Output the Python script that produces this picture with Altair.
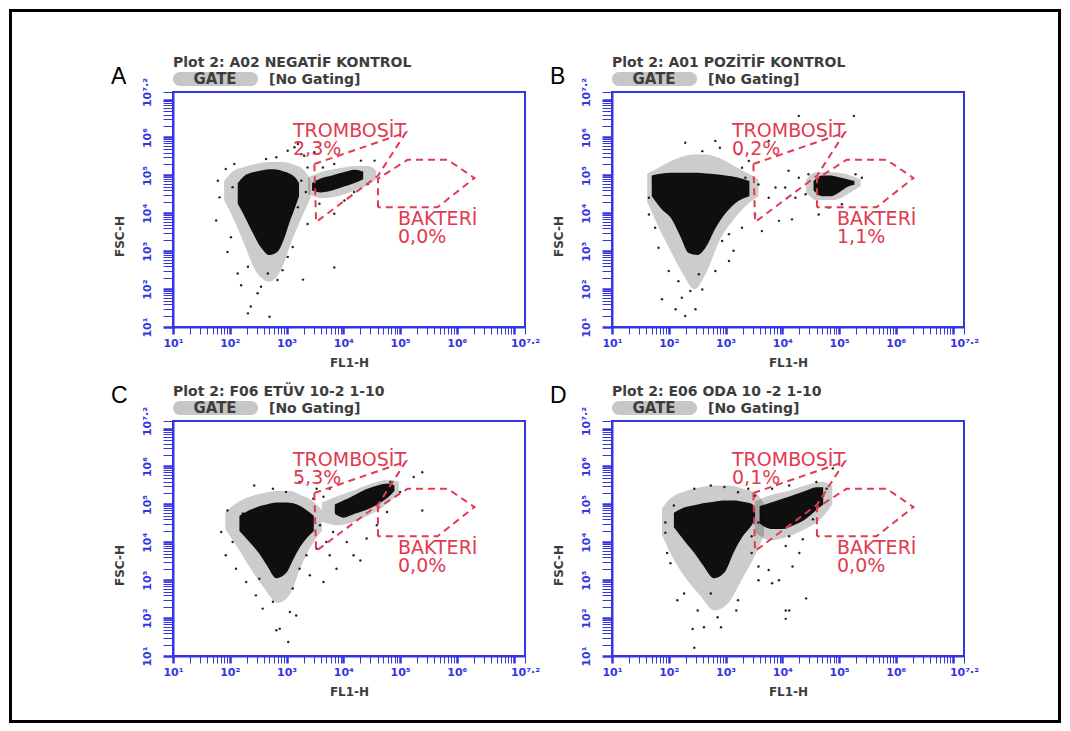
import math

import altair as alt
import pandas as pd

# all coordinates are decades: x = log10(FL1-H), y = log10(FSC-H)
titles = ["Plot 2: A02 NEGATİF KONTROL", "Plot 2: A01 POZİTİF KONTROL",
          "Plot 2: F06 ETÜV 10-2 1-10", "Plot 2: E06 ODA 10 -2 1-10"]
letters = ["A", "B", "C", "D"]
trombosit_pct = ["2,3%", "0,2%", "5,3%", "0,1%"]
bakteri_pct = ["0,0%", "1,1%", "0,0%", "0,0%"]

gate_trombosit = [(3.49, 5.30), (5.10, 6.13), (4.61, 4.99), (3.52, 3.77)]
gate_bakteri = [(4.61, 4.16), (4.61, 4.91), (5.13, 5.41), (5.84, 5.41), (6.31, 4.93), (5.66, 4.16)]

# dense event clouds: (x, low y, high y)
a_core = [(2.14, 4.25, 4.8), (2.25, 3.95, 4.98), (2.4, 3.5, 5.08), (2.55, 3.1, 5.13), (2.7, 2.9, 5.16),
          (2.85, 3.0, 5.15), (2.95, 3.3, 5.1), (3.05, 3.75, 5.05), (3.15, 4.15, 4.95), (3.22, 4.45, 4.8)]
a_halo = [(1.9, 4.35, 4.85), (2.05, 3.9, 5.1), (2.25, 3.2, 5.22), (2.45, 2.5, 5.3), (2.7, 2.2, 5.35),
          (2.9, 2.5, 5.35), (3.1, 3.3, 5.3), (3.3, 4.0, 5.15), (3.42, 4.4, 4.9)]
a_clump = [(3.45, 4.6, 4.8), (3.6, 4.55, 4.92), (3.8, 4.6, 5.0), (4.0, 4.7, 5.08), (4.2, 4.8, 5.15), (4.35, 4.9, 5.1)]
a_clump_halo = [(3.38, 4.5, 4.95), (3.6, 4.4, 5.08), (3.9, 4.45, 5.18), (4.2, 4.6, 5.25), (4.45, 4.75, 5.25), (4.58, 4.9, 5.12)]

b_core = [(1.70, 4.45, 5.0), (1.88, 4.1, 5.05), (2.05, 3.85, 5.07), (2.2, 3.4, 5.07), (2.35, 2.95, 5.07),
          (2.5, 2.9, 5.07), (2.65, 3.1, 5.05), (2.82, 3.6, 5.03), (3.0, 4.0, 5.0), (3.2, 4.3, 4.95), (3.42, 4.45, 4.85)]
b_halo = [(1.62, 4.3, 5.05), (1.8, 3.7, 5.18), (2.0, 3.1, 5.35), (2.25, 2.4, 5.5), (2.45, 2.0, 5.55),
          (2.65, 2.4, 5.55), (2.9, 3.3, 5.45), (3.15, 3.85, 5.25), (3.4, 4.25, 5.05), (3.58, 4.45, 4.9)]
b_clump = [(4.55, 4.6, 4.85), (4.7, 4.45, 5.0), (4.85, 4.45, 5.0), (5.0, 4.55, 4.95), (5.15, 4.7, 4.9), (5.27, 4.75, 4.85)]
b_clump_halo = [(4.42, 4.55, 4.9), (4.6, 4.35, 5.08), (4.9, 4.35, 5.08), (5.2, 4.55, 5.0), (5.38, 4.72, 4.9)]

c_core = [(2.17, 4.3, 4.7), (2.35, 4.0, 4.85), (2.52, 3.7, 4.95), (2.65, 3.4, 5.0), (2.82, 3.05, 5.05),
          (3.0, 3.2, 5.05), (3.12, 3.55, 5.03), (3.25, 3.9, 4.95), (3.35, 4.1, 4.85), (3.48, 4.3, 4.7)]
c_halo = [(1.92, 4.35, 4.8), (2.1, 3.95, 5.02), (2.35, 3.35, 5.2), (2.6, 2.8, 5.3), (2.85, 2.4, 5.35),
          (3.05, 2.6, 5.35), (3.25, 3.35, 5.25), (3.45, 3.95, 5.1), (3.62, 4.3, 4.85)]
c_clump = [(3.85, 4.75, 5.0), (4.0, 4.65, 5.1), (4.2, 4.75, 5.25), (4.4, 4.85, 5.4), (4.6, 5.0, 5.5),
           (4.8, 5.2, 5.55), (4.9, 5.35, 5.5)]
c_clump_halo = [(3.62, 4.55, 5.05), (3.9, 4.45, 5.22), (4.2, 4.55, 5.38), (4.5, 4.75, 5.55), (4.8, 5.05, 5.65), (4.98, 5.3, 5.6)]

d_core = [(2.09, 4.4, 4.78), (2.27, 4.05, 4.92), (2.45, 3.72, 4.98), (2.6, 3.4, 5.03), (2.8, 3.05, 5.07),
          (2.98, 3.2, 5.1), (3.15, 3.75, 5.1), (3.3, 4.15, 5.07), (3.46, 4.45, 5.02), (3.52, 4.6, 4.9)]
d_halo = [(1.88, 4.2, 4.9), (2.05, 3.65, 5.18), (2.3, 3.05, 5.35), (2.55, 2.6, 5.45), (2.8, 2.2, 5.5),
          (3.05, 2.4, 5.5), (3.3, 3.05, 5.42), (3.55, 3.75, 5.28), (3.68, 4.2, 5.0)]
d_clump = [(3.6, 4.5, 4.95), (3.8, 4.35, 5.05), (4.0, 4.35, 5.15), (4.2, 4.45, 5.25), (4.4, 4.6, 5.35),
           (4.6, 4.85, 5.45), (4.72, 5.0, 5.45)]
d_clump_halo = [(3.52, 4.25, 5.08), (3.8, 4.05, 5.25), (4.1, 4.15, 5.35), (4.4, 4.35, 5.5), (4.7, 4.65, 5.6), (4.88, 5.0, 5.5)]

# single events outside the dense clouds
a_dots = [(2.32, 1.36), (2.70, 1.27), (2.37, 1.54), (2.49, 1.89), (2.20, 2.10), (2.55, 2.06), (2.67, 2.41),
          (2.84, 2.24), (2.93, 2.50), (2.14, 2.41), (3.29, 2.25), (3.84, 2.57), (1.96, 2.98), (2.32, 2.59),
          (3.02, 2.85), (3.11, 3.11), (2.02, 3.37), (1.76, 3.81), (1.82, 4.42), (1.79, 4.86), (2.05, 4.69),
          (1.93, 5.17), (2.08, 5.30), (2.64, 5.43), (2.82, 5.48), (3.02, 5.65), (3.14, 5.74), (3.31, 5.52),
          (3.37, 5.21), (3.26, 4.86), (3.34, 4.56), (3.20, 4.16), (3.37, 3.72), (3.08, 3.99), (3.58, 4.25),
          (3.84, 3.99), (4.02, 4.34), (4.19, 4.56), (4.43, 4.77), (4.55, 5.39), (4.31, 5.39), (3.84, 5.30),
          (3.64, 5.21), (3.49, 5.61), (3.20, 5.83), (3.26, 5.56)]
b_dots = [(2.29, 1.29), (2.12, 1.47), (2.47, 1.47), (1.88, 1.73), (2.23, 1.77), (2.38, 1.95), (2.59, 1.99),
          (2.17, 2.21), (2.53, 2.39), (2.82, 2.48), (2.00, 2.48), (3.06, 2.74), (3.14, 3.01), (1.82, 3.09),
          (1.76, 3.62), (2.94, 3.27), (1.65, 4.41), (1.73, 4.85), (1.65, 3.97), (2.29, 5.86), (2.82, 5.91),
          (2.59, 5.64), (2.90, 5.73), (3.23, 5.56), (3.41, 5.38), (3.29, 5.20), (3.58, 4.76), (3.76, 4.41),
          (3.88, 4.68), (3.52, 3.97), (3.64, 3.53), (3.94, 3.80), (4.17, 3.84), (4.23, 4.41), (4.05, 4.68),
          (4.29, 4.94), (4.11, 5.12), (4.46, 5.03), (4.41, 4.50), (4.64, 3.97), (4.82, 4.15), (5.05, 4.24),
          (5.40, 4.94), (5.29, 5.03), (4.29, 6.57), (5.26, 6.57), (3.76, 5.91), (3.06, 3.45), (3.29, 3.62),
          (3.35, 4.94)]
c_dots = [(3.03, 1.37), (2.88, 1.72), (2.82, 1.68), (2.58, 2.25), (3.06, 2.16), (3.17, 2.07), (2.76, 2.43),
          (2.46, 2.60), (2.29, 2.95), (2.52, 3.04), (2.11, 3.30), (1.93, 3.66), (2.05, 4.01), (1.85, 4.27),
          (1.96, 4.84), (2.23, 4.76), (2.43, 5.50), (2.76, 5.41), (2.99, 5.33), (3.23, 5.59), (3.53, 5.41),
          (3.76, 5.41), (3.65, 5.20), (3.47, 5.15), (3.59, 4.45), (3.70, 4.01), (3.82, 4.27), (3.53, 3.83),
          (3.76, 3.66), (3.88, 3.30), (3.65, 2.95), (4.18, 3.66), (4.30, 3.52), (4.06, 4.01), (4.41, 4.10),
          (4.59, 4.45), (4.77, 4.80), (5.00, 5.33), (5.24, 5.72), (5.39, 5.85), (5.39, 4.84), (4.83, 5.59),
          (3.35, 3.66), (3.23, 3.30), (3.41, 3.13), (3.11, 2.78)]
d_dots = [(2.45, 1.22), (2.42, 1.71), (2.62, 1.76), (2.92, 1.76), (2.15, 2.47), (2.51, 2.20), (2.86, 2.02),
          (3.19, 2.20), (3.22, 2.47), (2.74, 2.65), (2.27, 2.65), (2.03, 3.45), (1.97, 3.72), (1.94, 4.25),
          (1.94, 4.52), (2.09, 4.97), (2.45, 5.41), (2.74, 5.50), (2.98, 5.46), (3.22, 5.32), (3.40, 5.41),
          (3.52, 5.23), (3.58, 4.52), (3.46, 4.16), (3.46, 3.72), (3.58, 3.36), (3.58, 3.00), (3.82, 2.92),
          (3.76, 3.27), (3.94, 3.00), (4.06, 2.20), (4.06, 1.98), (4.12, 2.20), (4.42, 2.52), (4.18, 3.36),
          (4.36, 4.08), (4.30, 3.72), (4.12, 4.16), (4.06, 3.90), (4.54, 4.61), (4.72, 5.23), (4.78, 5.41),
          (4.60, 5.59), (3.82, 5.41), (4.12, 5.50), (4.89, 5.95)]

cores = [a_core, b_core, c_core, d_core]
halos = [a_halo, b_halo, c_halo, d_halo]
clumps = [a_clump, b_clump, c_clump, d_clump]
clump_halos = [a_clump_halo, b_clump_halo, c_clump_halo, d_clump_halo]
dots = [a_dots, b_dots, c_dots, d_dots]

W, H = 352, 235
BLUE = "#3535e2"
RED = "#e23a4f"
INK = "#3d3d3d"
FONT = "DejaVu Sans"

ticks = sorted({round(e + math.log10(m), 4) for e in range(1, 8) for m in range(1, 10)
                if e + math.log10(m) <= 7.2} | {7.2})
is_decade = "abs(datum.value - round(datum.value)) < 0.001"
# decades 10^1..10^6 labelled, then the 10^7.2 end of the range
label_expr = ("abs(datum.value - 7.2) < 0.001 ? '10⁷·²' : ((" + is_decade + ") && datum.value < 6.5"
              " ? '10' + ['⁰','¹','²','³','⁴','⁵','⁶'][round(datum.value)] : '')")

xs = alt.Scale(domain=[1, 7.2], nice=False, zero=False)
ys = alt.Scale(domain=[1, 7.2], nice=False, zero=False)

axis_common = dict(
    values=ticks, labelExpr=label_expr, labelOverlap=False, labelFlush=False, grid=False,
    domainColor=BLUE, domainWidth=2, tickColor=BLUE,
    tickWidth={"condition": {"test": is_decade, "value": 2.5}, "value": 1},
    labelColor=BLUE, labelFont=FONT, labelFontWeight="bold", labelFontSize=11,
    titleFont=FONT, titleFontSize=12, titleColor=INK, titleFontWeight="bold",
    titleAlign="center", titleBaseline="middle",
)
x_axis = alt.Axis(title="FL1-H", tickSize=7, labelPadding=3, titleX=W / 2, titleY=35, **axis_common)
y_axis = alt.Axis(title="FSC-H", tickSize=10, labelPadding=11, labelAngle=270, labelAlign="center",
                  labelBaseline="bottom", titleAngle=270, titleX=-54, titleY=144, **axis_common)

one = pd.DataFrame({"k": [0]})


def xenc(field):
    return alt.X(field, scale=xs, axis=x_axis)


def yenc(field):
    return alt.Y(field, scale=ys, axis=y_axis)


def note(text, x, y, align="left", **kw):
    return alt.Chart(one).mark_text(text=text, align=align, baseline="alphabetic", **kw).encode(
        x=alt.value(x), y=alt.value(y))


def clouds(parts):
    rows = []
    for name, part in parts:
        for x, lo, hi in part:
            rows.append({"blob": name, "x": x, "lo": lo, "hi": hi})
    return pd.DataFrame(rows)


def panel(k):
    halo_df = clouds([("main", halos[k]), ("clump", clump_halos[k])])
    core_df = clouds([("main", cores[k]), ("clump", clumps[k])])

    halo = alt.Chart(halo_df).mark_area(color="black", opacity=0.2, interpolate="monotone").encode(
        x=xenc("x:Q"), y=yenc("lo:Q"), y2="hi:Q", detail="blob:N")
    core = alt.Chart(core_df).mark_area(color="black", opacity=0.93, interpolate="monotone").encode(
        x=xenc("x:Q"), y=yenc("lo:Q"), y2="hi:Q", detail="blob:N")

    pts = pd.DataFrame(dots[k], columns=["x", "y"])
    events = alt.Chart(pts).mark_circle(size=6, color="black", opacity=0.85).encode(
        x=xenc("x:Q"), y=yenc("y:Q"))

    gate_rows = []
    for name, corners in (("trombosit", gate_trombosit), ("bakteri", gate_bakteri)):
        for j, (x, y) in enumerate(corners + corners[:1]):
            gate_rows.append({"gate": name, "ord": j, "x": x, "y": y})
    gates = alt.Chart(pd.DataFrame(gate_rows)).mark_line(
        color=RED, strokeDash=[7, 5], strokeWidth=2).encode(
        x=xenc("x:Q"), y=yenc("y:Q"), detail="gate:N", order="ord:Q")

    letter_y = -8 if k < 2 else -18
    pill = alt.Chart(one).mark_rect(cornerRadius=7, color="#c6c6c6").encode(
        x=alt.value(0), x2=alt.value(85), y=alt.value(-20), y2=alt.value(-6))

    layers = [
        halo, core, events, gates,
        note(letters[k], -62, letter_y, font="Liberation Sans", fontSize=23, color="black"),
        note(titles[k], 0, -25, font=FONT, fontSize=14, fontWeight="bold", color=INK),
        pill,
        note("GATE", 42, -8, align="center", font=FONT, fontSize=15, fontWeight="bold", color=INK),
        note("[No Gating]", 96, -8, font=FONT, fontSize=14, fontWeight="bold", color=INK),
        note("TROMBOSİT", 120, 45, font=FONT, fontSize=19, color=RED),
        note(trombosit_pct[k], 120, 63, font=FONT, fontSize=19, color=RED),
        note("BAKTERİ", 225, 133, font=FONT, fontSize=19, color=RED),
        note(bakteri_pct[k], 225, 151, font=FONT, fontSize=19, color=RED),
    ]
    if k == 0:
        frame = alt.Chart(one).mark_rect(filled=False, stroke="black", strokeWidth=3).encode(
            x=alt.value(-162.5), x2=alt.value(886.5), y=alt.value(-81.5), y2=alt.value(629.5))
        layers.append(frame)
    return alt.layer(*layers).properties(width=W, height=H)


chart = (
    alt.concat(panel(0), panel(1), panel(2), panel(3), columns=2, bounds="flush",
               spacing={"row": 94, "column": 87})
    .properties(padding=0)
    .configure_view(stroke=BLUE, strokeWidth=2)
)

chart.save("out.html", embed_options={"renderer": "svg", "actions": False})
